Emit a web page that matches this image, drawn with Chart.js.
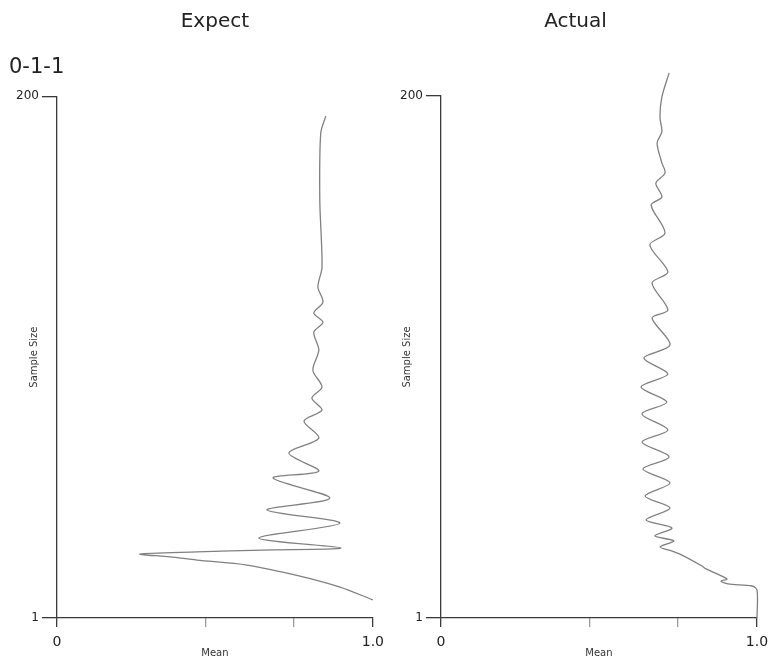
<!DOCTYPE html>
<html>
<head>
<meta charset="utf-8">
<script src="https://cdn.jsdelivr.net/npm/chart.js@4/dist/chart.umd.min.js"></script>
<style>
  html, body { margin: 0; padding: 0; background: #fff; overflow: hidden; }
  #wrap { position: relative; width: 770px; height: 664px; }
  .box { position: absolute; top: 0; width: 385px; height: 664px; }
  #boxL { left: 0; }
  #boxR { left: 385px; }
</style>
</head>
<body>
<div id="wrap">
  <div class="box" id="boxL"><canvas id="cL" width="385" height="664"></canvas></div>
  <div class="box" id="boxR"><canvas id="cR" width="385" height="664"></canvas></div>
</div>
<script>
// ---- data ----
const rowLabel = '0-1-1';
const panelTitles = ['Expect', 'Actual'];
const xAxisTitle = 'Mean';
const yAxisTitle = 'Sample Size';

const yTicks = [1, 200];
const xTicks = [0, 0.47, 0.75, 1.0];
const xTickLabels = ['0', '', '', '1.0'];

const expectSampleSize = [7.9, 12.8, 17.0, 21.2, 23.1, 24.3, 25.4, 26.2, 26.9, 27.7,
  31.5, 37.2, 42.2, 46.7, 54.4, 57.0, 63.9, 69.6, 76.1, 80.3,
  84.9, 89.1, 95.5, 103.2, 110.0, 113.8, 117.3, 121.5, 127.2, 134.8,
  160.4, 185.9, 192.4];
const expectMean = [1.000, 0.896, 0.769, 0.601, 0.443, 0.358, 0.263, 0.443, 0.652, 0.899,
  0.639, 0.896, 0.665, 0.864, 0.684, 0.829, 0.734, 0.829, 0.782, 0.839,
  0.807, 0.839, 0.810, 0.829, 0.813, 0.842, 0.813, 0.842, 0.826, 0.839,
  0.832, 0.835, 0.851];

const actualSampleSize = [1, 11.7, 13.2, 14.0, 15.1, 15.9, 19.7, 20.8, 24.6, 26.5,
  28.1, 30.4, 32.3, 35.3, 38.4, 42.9, 47.5, 52.5, 57.8, 62.4,
  68.1, 72.7, 78.8, 83.3, 89.1, 94.0, 100.1, 105.1, 115.4, 118.4,
  128.7, 132.9, 143.2, 147.8, 158.4, 161.5, 166.8, 170.6, 174.5, 182.1,
  186.3, 192.0, 199.6, 208.8];
const actualMean = [1.000, 1.000, 0.984, 0.908, 0.886, 0.905, 0.839, 0.826, 0.769, 0.731,
  0.693, 0.737, 0.677, 0.731, 0.649, 0.725, 0.646, 0.725, 0.639, 0.722,
  0.636, 0.718, 0.636, 0.715, 0.633, 0.718, 0.642, 0.725, 0.668, 0.718,
  0.668, 0.718, 0.661, 0.709, 0.665, 0.699, 0.680, 0.709, 0.699, 0.684,
  0.699, 0.693, 0.699, 0.722];

// ---- rendering ----
const FONT = 'DejaVu Sans';
Chart.defaults.font.family = FONT;
Chart.defaults.color = '#222';
const AXIS = '#3a3a3a';
const CURVE = '#808080';

function toPoints(xs, ys) { return xs.map((x, i) => ({ x: x, y: ys[i] })); }

function makeChart(canvasId, opts) {
  return new Chart(document.getElementById(canvasId), {
    type: 'scatter',
    data: {
      datasets: [{
        data: opts.points,
        showLine: true,
        borderColor: CURVE,
        borderWidth: 1.3,
        pointRadius: 0,
        tension: 0.3,
        clip: false,
        fill: false
      }]
    },
    options: {
      responsive: false,
      animation: false,
      devicePixelRatio: 1,
      elements: { line: { capBezierPoints: false } },
      layout: { padding: { left: 9, right: opts.padRight, top: 0, bottom: 4 } },
      plugins: {
        legend: { display: false },
        tooltip: { enabled: false },
        title: {
          display: true, text: opts.title, fullSize: opts.titleFull,
          font: { size: 20, weight: 'normal' }, color: '#222',
          padding: { top: 10, bottom: opts.titleBottom }
        },
        subtitle: {
          display: opts.sub !== '', text: opts.sub, align: 'start',
          font: { size: 21, weight: 'normal' }, color: '#222',
          padding: { top: 20.5, bottom: 16.5 }
        }
      },
      scales: {
        x: {
          type: 'linear', position: 'bottom', min: 0, max: 1,
          afterBuildTicks: s => { s.ticks = xTicks.map(v => ({ value: v })); },
          ticks: {
            font: { size: 14, lineHeight: 2.0 }, color: '#222', padding: 1,
            maxRotation: 0, autoSkip: false,
            callback: (v, i) => xTickLabels[i]
          },
          grid: {
            drawOnChartArea: false, drawTicks: true, tickLength: 9, lineWidth: 1.3,
            color: c => (c.tick && (c.tick.value === 0 || c.tick.value === 1)) ? AXIS : '#9a9a9a'
          },
          border: { display: true, color: AXIS, width: 1.3 },
          title: {
            display: true, text: xAxisTitle, font: { size: 10 }, color: '#333',
            padding: { top: -10, bottom: 1 }
          }
        },
        y: {
          type: 'linear', position: 'left', min: 1, max: 200,
          afterBuildTicks: s => { s.ticks = yTicks.map(v => ({ value: v })); },
          ticks: { font: { size: 12 }, color: '#222', padding: 3, callback: v => String(v) },
          grid: { drawOnChartArea: false, drawTicks: true, tickLength: 15, lineWidth: 1.3, color: AXIS },
          border: { display: true, color: AXIS, width: 1.3 },
          title: {
            display: true, text: yAxisTitle, font: { size: 10 }, color: '#333',
            padding: { top: opts.yTitleTop, bottom: opts.yTitleBottom }
          }
        }
      }
    }
  });
}

makeChart('cL', {
  points: toPoints(expectMean, expectSampleSize),
  title: panelTitles[0], titleFull: false, titleBottom: 0,
  sub: rowLabel, padRight: 12, yTitleTop: 19, yTitleBottom: -27
});
makeChart('cR', {
  points: toPoints(actualMean, actualSampleSize),
  title: panelTitles[1], titleFull: true, titleBottom: 62,
  sub: '', padRight: 13, yTitleTop: 7, yTitleBottom: -16
});
</script>
</body>
</html>
